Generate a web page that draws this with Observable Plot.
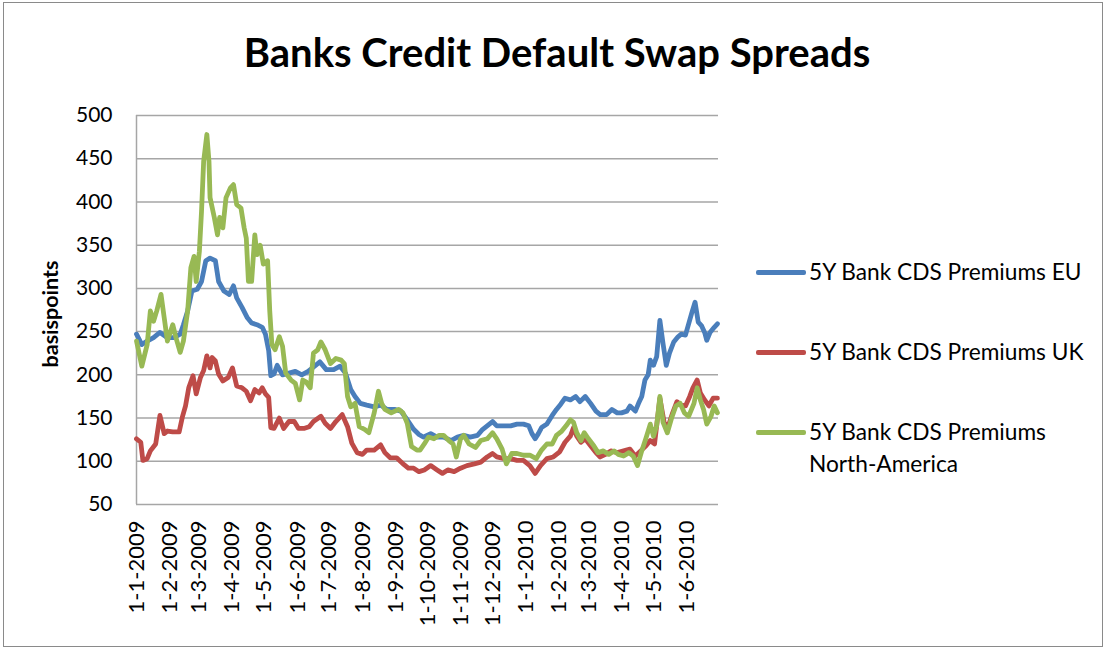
<!DOCTYPE html>
<html><head><meta charset="utf-8">
<script src="https://cdn.jsdelivr.net/npm/d3@7"></script>
<script src="https://cdn.jsdelivr.net/npm/@observablehq/plot@0.6"></script>
<style>
html,body{margin:0;padding:0;background:#fff;}
#page{position:relative;width:1107px;height:650px;overflow:hidden;font-family:Lato,"Open Sans",sans-serif;color:#000;}
#frame{position:absolute;left:3px;top:2px;width:1100px;height:645px;border:1.5px solid #8a8a8a;box-sizing:border-box;}
#title{position:absolute;left:0;width:1114px;top:29px;text-align:center;font-weight:700;font-size:40px;line-height:46px;}
#chart{position:absolute;left:0;top:95px;}
#ylabel{position:absolute;left:50px;top:314px;transform:translate(-50%,-50%) rotate(-90deg);font-weight:700;font-size:21.5px;white-space:nowrap;}
.leg{position:absolute;left:756px;font-size:22.7px;line-height:32px;display:flex;align-items:flex-start;}
.sw{width:50px;height:4.5px;border-radius:2px;margin-top:14px;margin-right:3px;flex:none;}
</style></head>
<body><div id="page">
<div id="frame"></div>
<div id="title"></div>
<div id="chart"></div>
<div id="ylabel"></div>
<div id="legend"></div>
</div>
<script>
const chartTitle = "Banks Credit Default Swap Spreads";
const yLabel = "basispoints";
const monthTicks = ["1-1-2009","1-2-2009","1-3-2009","1-4-2009","1-5-2009","1-6-2009","1-7-2009","1-8-2009","1-9-2009","1-10-2009","1-11-2009","1-12-2009","1-1-2010","1-2-2010","1-3-2010","1-4-2010","1-5-2010","1-6-2010"];
const yTicks = [50,100,150,200,250,300,350,400,450,500];
const seriesNames = ["5Y Bank CDS Premiums EU","5Y Bank CDS Premiums UK","5Y Bank CDS Premiums North-America"];
const seriesColors = ["#4a7ebb","#be4b48","#98b954"];

// days since 1-1-2009, and basis points
const euDay = [0,5,10,16,22,29,35,41,44,48,52,57,61,65,69,74,77,82,87,91,94,99,104,108,113,118,121,124,126,129,132,137,143,149,155,161,168,172,178,185,191,196,201,205,210,216,223,229,235,242,248,254,260,265,269,276,282,288,295,301,307,313,320,324,329,334,338,345,351,357,363,368,371,374,377,380,385,390,394,398,402,407,412,416,421,426,431,435,441,446,451,455,460,463,468,471,474,477,480,482,485,488,491,494,497,500,504,508,511,515,518,521,524,527,530,533,535,538,542,545];
const euBp  = [247,235,239,243,249,243,243,247,258,274,297,299,308,332,335,332,308,297,293,303,289,278,266,260,258,255,247,228,199,201,211,200,202,204,200,204,211,215,206,206,210,202,183,175,167,165,163,165,160,160,158,148,137,131,128,132,128,128,124,128,130,128,130,136,141,146,141,141,141,143,143,141,132,126,132,139,143,153,160,166,173,171,175,169,175,167,158,154,154,160,156,156,158,164,158,167,175,194,200,217,211,221,263,236,211,225,238,244,247,246,259,272,284,261,257,249,240,249,255,259];

const ukDay = [0,4,6,10,13,18,22,26,29,34,40,43,46,49,53,56,60,63,66,69,71,74,77,81,86,90,94,99,103,107,111,115,118,121,124,126,129,134,138,143,148,152,157,162,166,173,177,182,187,193,198,202,207,212,216,223,229,233,238,244,251,255,260,265,270,276,282,287,292,298,304,310,317,323,329,334,338,345,351,357,363,369,374,379,385,391,397,402,407,410,413,417,421,426,431,435,440,445,451,457,463,468,473,478,482,486,491,495,499,503,507,511,515,519,522,526,529,533,537,541,545];
const ukBp  = [126,122,101,103,112,120,153,132,135,134,134,151,164,185,199,178,197,205,222,208,220,216,201,193,197,208,187,185,181,170,183,179,185,178,174,139,138,150,138,146,146,138,138,140,146,152,144,138,146,154,140,121,110,108,113,113,119,110,104,104,96,92,92,88,90,95,90,86,90,88,92,95,97,99,105,109,105,103,103,101,101,95,86,95,103,105,111,122,129,139,129,122,126,118,110,105,108,112,110,112,114,106,112,118,124,120,173,145,141,156,169,165,164,175,185,194,179,171,164,173,173];

const naDay = [0,5,10,13,16,19,23,26,29,34,37,41,44,48,51,54,56,59,61,63,66,68,69,73,76,78,81,84,88,91,94,98,101,103,105,108,111,113,116,119,123,125,127,130,134,137,140,145,149,153,156,159,163,166,170,173,177,182,187,192,195,198,201,205,209,214,218,223,227,230,233,239,246,250,254,258,263,266,270,274,279,284,288,293,297,300,304,307,312,318,323,329,334,338,343,347,352,357,363,369,375,380,385,390,394,399,403,407,410,413,417,420,424,429,433,438,443,448,452,457,462,466,470,474,478,482,485,488,491,494,498,502,506,510,514,518,523,526,529,532,535,539,542,545];
const naBp  = [239,210,235,274,262,274,293,266,239,258,243,226,239,274,324,337,308,343,389,447,478,447,405,382,362,382,370,405,416,420,397,393,370,358,308,308,362,339,350,328,332,274,235,229,244,233,202,194,190,171,194,192,185,225,229,238,229,213,219,217,213,175,163,167,140,137,133,156,181,167,160,156,160,156,144,117,113,113,120,128,126,130,130,124,120,105,126,130,120,116,124,126,133,126,114,97,109,109,107,107,103,113,120,120,130,135,141,148,145,133,124,133,126,118,110,112,108,112,108,106,110,106,95,112,127,143,129,141,175,145,133,150,164,167,156,152,167,185,171,160,143,152,164,156];

const start = Date.UTC(2009, 0, 1);
const toDate = d => new Date(start + d * 864e5);
const parseTick = s => { const [d, m, y] = s.split("-").map(Number); return new Date(Date.UTC(y, m - 1, d)); };
const tickDates = monthTicks.map(parseTick);
const rows = (days, vals) => days.map((d, i) => ({date: toDate(d), bp: vals[i]}));
const eu = rows(euDay, euBp), uk = rows(ukDay, ukBp), na = rows(naDay, naBp);

const lineOpts = c => ({x: "date", y: "bp", stroke: c, strokeWidth: 4.8, strokeLinejoin: "round", strokeLinecap: "round"});

const plot = Plot.plot({
  width: 740, height: 544,
  marginLeft: 136, marginRight: 22, marginTop: 20, marginBottom: 135,
  style: {fontFamily: "Lato, sans-serif", fontSize: "21px", color: "#000", background: "transparent", overflow: "visible"},
  x: {type: "utc", domain: [new Date(start), new Date(Date.UTC(2010, 6, 1))]},
  y: {domain: [50, 500]},
  marks: [
    Plot.ruleY(yTicks, {stroke: "#a6a6a6", strokeWidth: 1.5, strokeOpacity: 1}),
    Plot.ruleX([new Date(start)], {stroke: "#a6a6a6", strokeWidth: 1.5, strokeOpacity: 1}),
    Plot.axisY(yTicks, {tickSize: 0, tickPadding: 24, fontSize: 21, label: null}),
    Plot.axisX(tickDates, {tickSize: 0, tickPadding: 16, tickRotate: -90, fontSize: 22, label: null,
      tickFormat: d => monthTicks[tickDates.findIndex(t => +t === +d)]}),
    Plot.line(eu, lineOpts(seriesColors[0])),
    Plot.line(uk, lineOpts(seriesColors[1])),
    Plot.line(na, lineOpts(seriesColors[2]))
  ]
});
document.getElementById("chart").appendChild(plot);
document.getElementById("title").textContent = chartTitle;
document.getElementById("ylabel").textContent = yLabel;

const legendTops = [256, 336, 416];
const legend = document.getElementById("legend");
seriesNames.forEach((name, i) => {
  const item = document.createElement("div");
  item.className = "leg";
  item.style.top = legendTops[i] + "px";
  const sw = document.createElement("div");
  sw.className = "sw";
  sw.style.background = seriesColors[i];
  const tx = document.createElement("div");
  tx.style.width = "290px";
  tx.textContent = name;
  item.appendChild(sw); item.appendChild(tx);
  legend.appendChild(item);
});
</script>
</body></html>
